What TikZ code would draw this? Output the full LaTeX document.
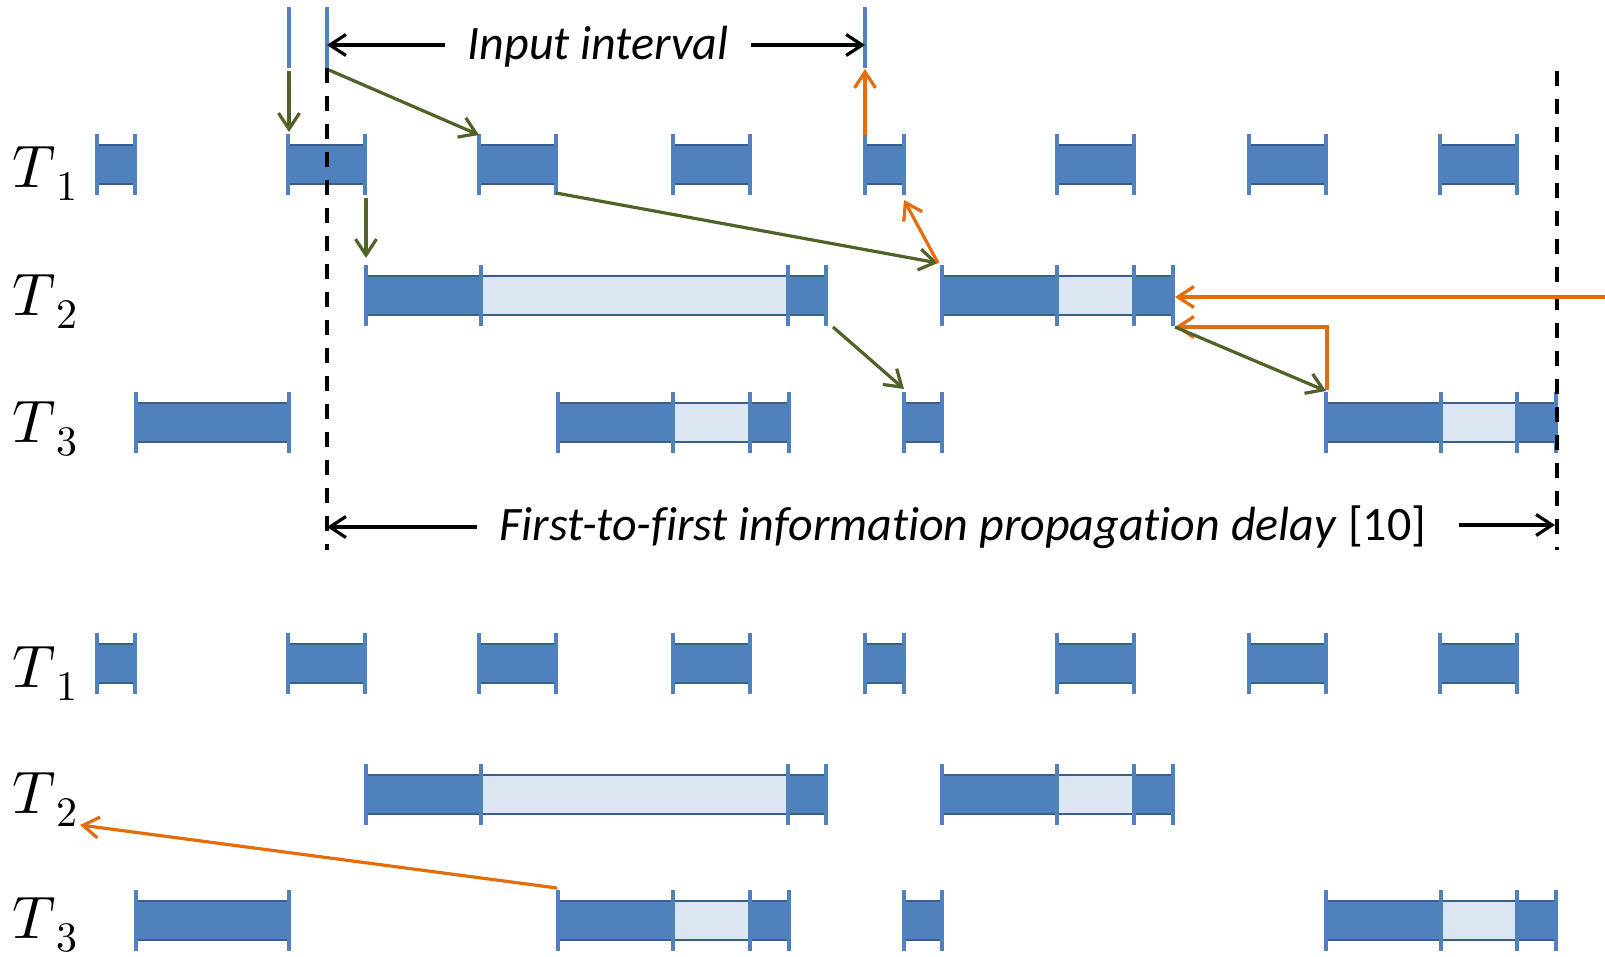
\documentclass[tikz,border=0pt]{standalone}
\usepackage{fontspec}
\usepackage{unicode-math}
\setmathfont{Latin Modern Math}
\setmainfont[Ligatures=NoCommon]{Carlito}
\usetikzlibrary{arrows.meta}
\definecolor{bblue}{HTML}{4F81BD}
\definecolor{bdark}{HTML}{3A5F8C}
\definecolor{blight}{HTML}{DCE6F2}
\definecolor{ogreen}{HTML}{4F6228}
\definecolor{orng}{HTML}{E46C0A}
\newcommand\rowat[1]{\pgfmathsetmacro\fT{#1-19.5}\pgfmathsetmacro\fB{#1+19.5}\pgfmathsetmacro\kT{#1-30.5}\pgfmathsetmacro\kB{#1+30.5}}
\newcommand\dseg[2]{\filldraw[dkbox] (#1,\fT) rectangle (#2,\fB);}
\newcommand\lseg[2]{\filldraw[ltbox] (#1,\fT) rectangle (#2,\fB);}
\newcommand\tks[1]{\foreach \xx in {#1} {\draw[tickln] (\xx,\kT) -- (\xx,\kB);}}
\newcommand\tlab[1]{$T\kern0pt\lower6.5pt\hbox{$\scriptstyle #1$}$}
\begin{document}
\begin{tikzpicture}[x=0.5pt,y=-0.5pt,
  dkbox/.style={fill=bblue,draw=bdark,line width=1pt},
  ltbox/.style={fill=blight,draw=bdark,line width=1pt},
  tickln/.style={draw=bblue,line width=1.6pt},
  tipv/.tip={Straight Barb[length=8pt,width=10.5pt]},
  conn/.style={line width=1.6pt,-tipv},
  grn/.style={conn,draw=ogreen},
  org/.style={conn,draw=orng},
  blk/.style={conn,draw=black},
  dsh/.style={draw=black,line width=2pt,dash pattern=on 7.5pt off 6.5pt},
  lbl/.style={font=\fontsize{30}{32}\selectfont, inner sep=0pt, anchor=base west},
  txt/.style={font=\fontsize{24}{28}\selectfont\itshape, inner ysep=0pt, inner xsep=11pt, anchor=base}
]
\useasboundingbox (0,0) rectangle (1605,957);

% ---------- labels ----------
\node[lbl] (l1a) at (12,188) {\tlab{1}};
\node[lbl] (l2a) at (12,315) {\tlab{2}};
\node[lbl] (l3a) at (12,442) {\tlab{3}};
\node[lbl] (l1b) at (12,687) {\tlab{1}};
\node[lbl] (l2b) at (12,813) {\tlab{2}};
\node[lbl] (l3b) at (12,938) {\tlab{3}};

% ---------- top section ----------
\rowat{164.5}
\dseg{97}{135}\dseg{288}{365}\dseg{479}{556}\dseg{673}{750}\dseg{865}{904}\dseg{1057}{1134}\dseg{1249}{1326}\dseg{1440}{1517}
\tks{97,135,288,365,479,556,673,750,865,904,1057,1134,1249,1326,1440,1517}
\rowat{295.5}
\dseg{366}{481}\lseg{481}{788}\dseg{788}{826}\dseg{942}{1057}\lseg{1057}{1134}\dseg{1134}{1173}
\tks{366,481,788,826,942,1057,1134,1173}
\rowat{422}
\dseg{136}{289}\dseg{558}{673}\lseg{673}{750}\dseg{750}{789}\dseg{904}{942}\dseg{1326}{1441}\lseg{1441}{1517}\dseg{1517}{1556}
\tks{136,289,558,673,750,789,904,942,1326,1441,1517,1556}

% top marker lines
\draw[tickln] (289,7) -- (289,68);
\draw[tickln] (327,7) -- (327,68);
\draw[tickln] (865,7) -- (865,68);

% dashed lines
\draw[dsh] (327,68) -- (327,550);
\draw[dsh] (1557,71) -- (1557,550);

% ---------- bottom section ----------
\rowat{663}
\dseg{97}{135}\dseg{288}{365}\dseg{479}{556}\dseg{673}{750}\dseg{865}{904}\dseg{1057}{1134}\dseg{1249}{1326}\dseg{1440}{1517}
\tks{97,135,288,365,479,556,673,750,865,904,1057,1134,1249,1326,1440,1517}
\rowat{794.5}
\dseg{366}{481}\lseg{481}{788}\dseg{788}{826}\dseg{942}{1057}\lseg{1057}{1134}\dseg{1134}{1173}
\tks{366,481,788,826,942,1057,1134,1173}
\rowat{920.5}
\dseg{136}{289}\dseg{558}{673}\lseg{673}{750}\dseg{750}{789}\dseg{904}{942}\dseg{1326}{1441}\lseg{1441}{1517}\dseg{1517}{1556}
\tks{136,289,558,673,750,789,904,942,1326,1441,1517,1556}

% ---------- coordinates ----------
\coordinate (inL) at (327,45);
\coordinate (inR) at (865,45);
\coordinate (dlL) at (327,527);
\coordinate (dlR) at (1555,525);
\coordinate (gA0) at (289,71);
\coordinate (gA1) at (289,132);
\coordinate (gB0) at (329,70);
\coordinate (gB1) at (479,135);
\coordinate (oC0) at (865,135);
\coordinate (oC1) at (865,69);
\coordinate (gD0) at (366,198);
\coordinate (gD1) at (366,258);
\coordinate (gE0) at (556,193);
\coordinate (gE1) at (938,263);
\coordinate (oF1) at (904,200);
\coordinate (gG0) at (833,327);
\coordinate (gG1) at (904,389);
\coordinate (oH0) at (1605,297);
\coordinate (oH1) at (1175,297);
\coordinate (oI0) at (1327,390);
\coordinate (oI1) at (1175,327);
\coordinate (gJ1) at (1326,391);
\coordinate (oK0) at (557,888);
\coordinate (oK1) at (80,825);

% ---------- texts ----------
\node[txt] (inp) at (598,60) {Input interval};
\node[txt] (del) at (963,540) {First-to-first information propagation delay\/ {\upshape[10]}};

% ---------- connectors ----------
\draw[blk] (inL -| inp.west) -- (inL);
\draw[blk] (inR -| inp.east) -- (inR);
\draw[blk] (dlL -| del.west) -- (dlL);
\draw[blk] ([xshift=5pt]dlR -| del.east) -- (dlR);

\draw[grn] (gA0) -- (gA1);
\draw[grn] (gB0) -- (gB1);
\draw[org] (oC0) -- (oC1);
\draw[grn] (gD0) -- (gD1);
\draw[grn] (gE0) -- (gE1);
\draw[org] (gE1) -- (oF1);
\draw[grn] (gG0) -- (gG1);
\draw[org] (oH0) -- (oH1);
\draw[org] (oI0) -- (oI0 |- oI1) -- (oI1);
\draw[grn] (oI1) -- (gJ1);
\draw[org] (oK0) -- (oK1);
\end{tikzpicture}
\end{document}
